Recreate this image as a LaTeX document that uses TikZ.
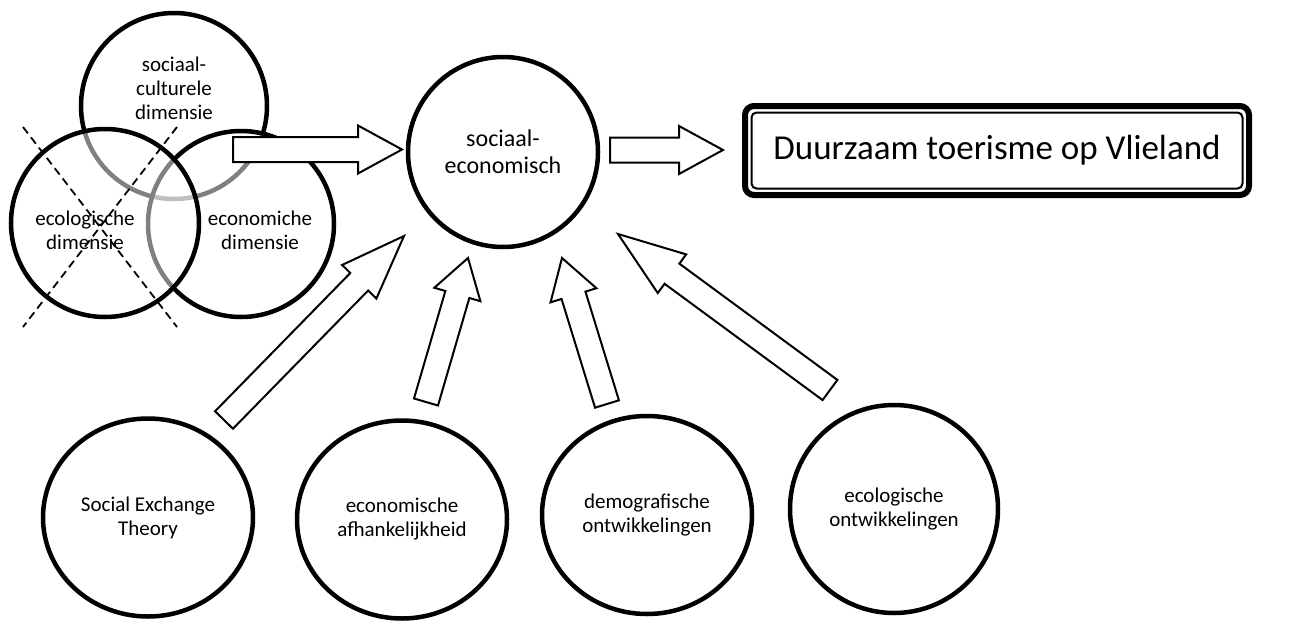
\documentclass[tikz,border=0pt]{standalone}
\usepackage{fontspec}
\setmainfont{Carlito}
\usetikzlibrary{calc,shapes.geometric}

\newcommand{\venntxt}{\fontsize{21}{24}\selectfont}
\newcommand{\midtxt}{\fontsize{24}{27}\selectfont}
\newcommand{\goaltxt}{\fontsize{35}{42}\selectfont}

% hollow block arrow: tail, tip, head length
\newcommand{\fatarrow}[3]{%
  \coordinate (hb) at ($(#2)!#3pt!(#1)$);
  \draw[fatbody] ($(#1)!12.5pt!90:(#2)$) -- ($(hb)!12.5pt!-90:(#1)$) -- ($(hb)!24pt!-90:(#1)$)
    -- (#2) -- ($(hb)!24pt!90:(#1)$) -- ($(hb)!12.5pt!90:(#1)$) -- ($(#1)!12.5pt!-90:(#2)$) -- cycle;
}

\begin{document}
\begin{tikzpicture}[x=1pt,y=-1pt,
ring/.style={draw,circle,line width=4.5pt,inner sep=0pt,align=center},
oval/.style={draw,ellipse,line width=4.5pt,inner sep=0pt,align=center,font=\venntxt},
veil/.style={fill=white,fill opacity=.5},
crossout/.style={dash pattern=on 8pt off 5pt,line width=1.8pt},
fatbody/.style={draw,fill=white,line width=2pt,line join=miter},
goalbox/.style={draw,rectangle,rounded corners=9pt,line width=6pt,outer sep=0pt,
  minimum width=504pt,minimum height=89pt,font=\goaltxt}]
\useasboundingbox (0,0) rectangle (1296,621);

% three dimensions
\node[ring,minimum size=186pt] (soc) at (174,106) {};
\node[ring,veil,minimum size=186pt] (eco) at (241,224) {};
\node[ring,veil,minimum size=188pt] (ecol) at (105,223) {};
\draw[crossout] (23,127) -- (177,327);
\draw[crossout] (177,127) -- (23,327);
\node[align=center,font=\venntxt] (soct) at (174,88) {sociaal-\\culturele\\dimensie};
\node[align=center,font=\venntxt] (ecolt) at (85,230) {ecologische\\dimensie};
\node[align=center,font=\venntxt] (ecot) at (260,230) {economiche\\dimensie};

\node[ring,minimum size=190pt,font=\midtxt] (mid) at (503,152) {sociaal-\\economisch};
\node[goalbox] (goal) at (997,150.5) {Duurzaam toerisme op Vlieland};
\draw[line width=2pt,rounded corners=5pt] ($(goal.north west)+(6.5,6.5)$) rectangle ($(goal.south east)+(-6.5,-6.5)$);

% influences
\node[oval,minimum width=210pt,minimum height=198pt] (set) at (148,517.5) {Social Exchange\\Theory};
\node[oval,minimum width=210pt,minimum height=198pt] (dep) at (402,519.5) {economische\\afhankelijkheid};
\node[oval,minimum width=210pt,minimum height=198pt] (demo) at (647,515) {demografische\\ontwikkelingen};
\node[oval,minimum width=208pt,minimum height=208pt] (ecodev) at (894,509) {ecologische\\ontwikkelingen};

% arrows
\coordinate (a1s) at (233,149.5); \coordinate (a1e) at (402,149.5);
\coordinate (a2s) at (610,150);   \coordinate (a2e) at (723,150);
\coordinate (a3s) at (224,420);   \coordinate (a3e) at (404,236);
\coordinate (a4s) at (426,402);   \coordinate (a4e) at (468,258);
\coordinate (a5s) at (607,404);   \coordinate (a5e) at (562,258);
\coordinate (a6s) at (830,390);   \coordinate (a6e) at (618,234);
\fatarrow{a1s}{a1e}{44}
\fatarrow{a2s}{a2e}{44}
\fatarrow{a3s}{a3e}{64}
\fatarrow{a4s}{a4e}{38}
\fatarrow{a5s}{a5e}{39}
\fatarrow{a6s}{a6e}{67}

\end{tikzpicture}
\end{document}
